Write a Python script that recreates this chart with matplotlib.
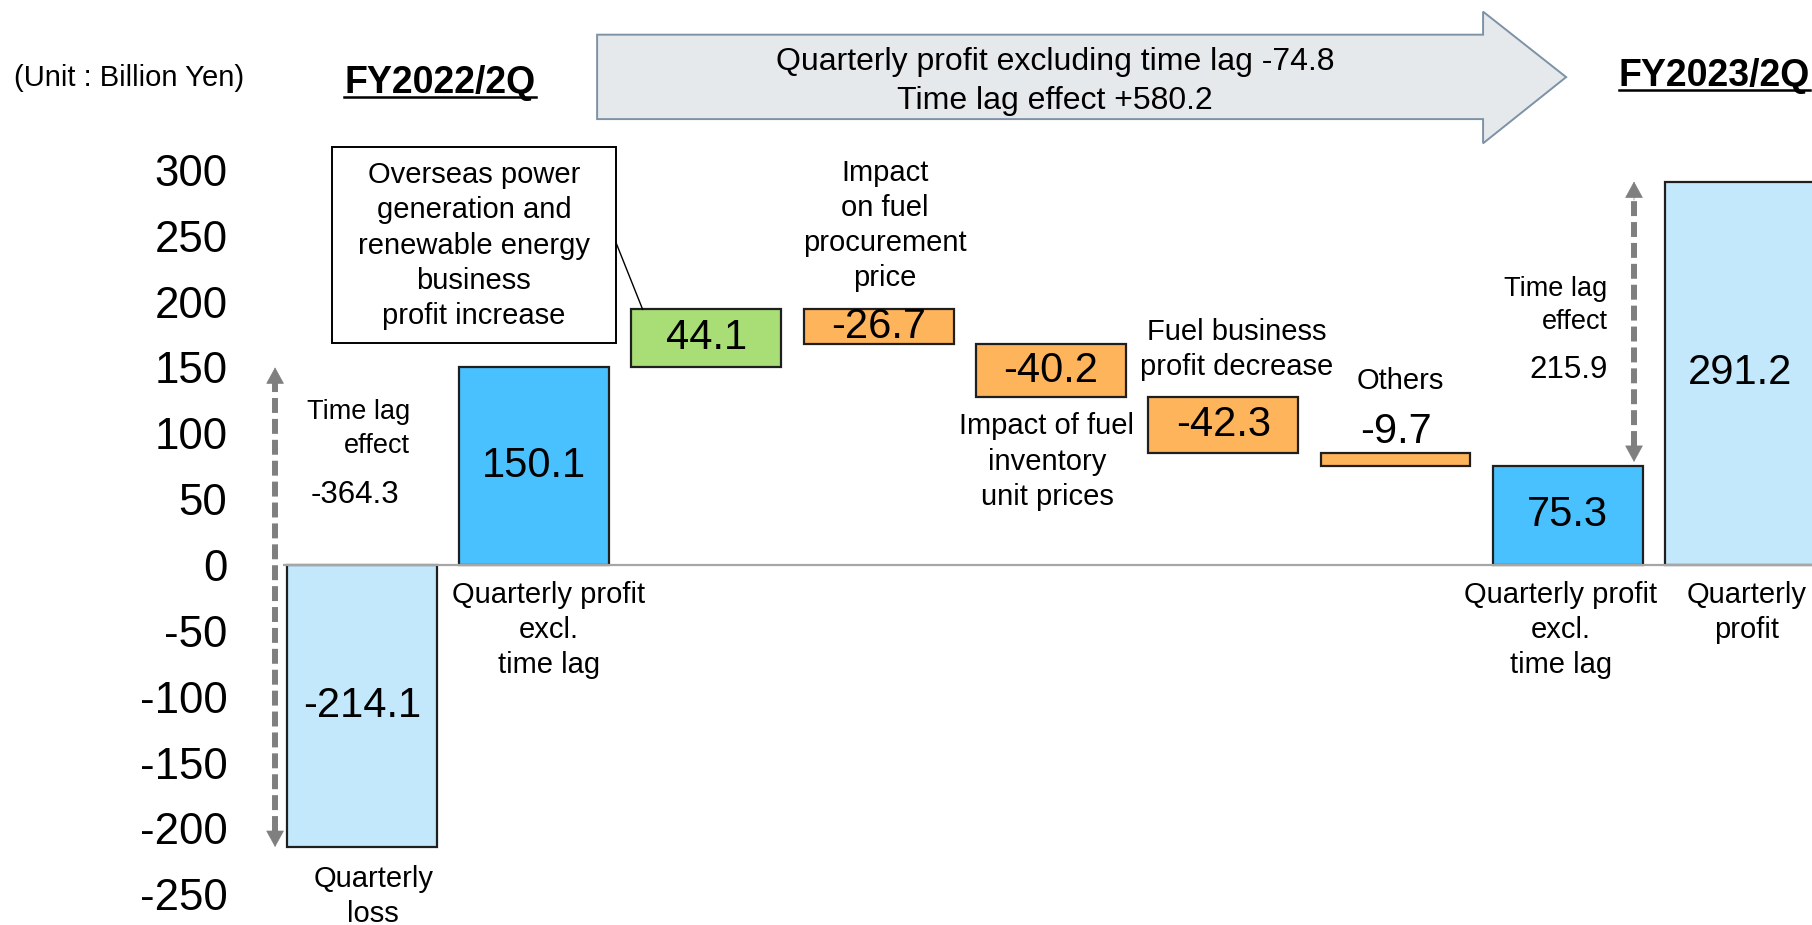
import matplotlib
matplotlib.use("Agg")
import matplotlib.pyplot as plt
from matplotlib.patches import Polygon, Rectangle
from matplotlib.lines import Line2D

# waterfall data (billion yen)
steps = [
    "Quarterly\nloss",
    "Quarterly profit\nexcl.\ntime lag",
    "Overseas power\ngeneration and\nrenewable energy\nbusiness\nprofit increase",
    "Impact\non fuel\nprocurement\nprice",
    "Impact of fuel\ninventory\nunit prices",
    "Fuel business\nprofit decrease",
    "Others",
    "Quarterly profit\nexcl.\ntime lag",
    "Quarterly\nprofit",
]
values = [-214.1, 150.1, 44.1, -26.7, -40.2, -42.3, -9.7, 75.3, 291.2]
kinds = ["total", "total", "delta", "delta", "delta", "delta", "delta", "total", "total"]
time_lag = [-364.3, 215.9]
periods = ["FY2022/2Q", "FY2023/2Q"]
summary = ["Quarterly profit excluding time lag -74.8", "Time lag effect +580.2"]
yticks = list(range(-250, 301, 50))

LIGHT = "#C3E8FB"
BRIGHT = "#48C1FE"
GREEN = "#A9DD76"
ORANGE = "#FDB45B"
GRAY = "#7F7F7F"
bar_colors = [LIGHT, BRIGHT, GREEN, ORANGE, ORANGE, ORANGE, ORANGE, BRIGHT, LIGHT]

plt.rcParams["font.family"] = ["Liberation Sans", "DejaVu Sans"]

fig = plt.figure(figsize=(18.12, 9.25), dpi=100)
ax = fig.add_axes([283 / 1812, 0, 1 - 283 / 1812, 1 - 143.6 / 925])
ax.set_xlim(-0.457, 8.417)
ax.set_ylim(-273.3, 320)

# running totals for the floating bars
bottoms = []
running = 0
for v, k in zip(values, kinds):
    if k == "total":
        bottoms.append(0)
        running = v
    else:
        bottoms.append(running)
        running += v

xs = list(range(len(values)))
ax.bar(xs, values, bottom=bottoms, width=0.87, color=bar_colors,
       edgecolor="#1f1f1f", linewidth=1.6, zorder=2)
ax.axhline(0, color="#A6A6A6", lw=1.6, zorder=3)

# value labels
for x, v, b in zip(xs, values, bottoms):
    if abs(v) < 15:
        y = max(b, b + v) + 16
    else:
        y = b + v / 2
    ax.text(x, y, f"{v:.1f}", ha="center", va="center", fontsize=30, zorder=4)

# category labels (x offset, y centre)
label_pos = [(0.067, -251.3), (1.087, -49.2), None, (3.037, 257.5), (3.977, 78.6),
             (5.077, 163.6), (6.03, 139.7), (6.96, -49.2), (8.04, -36.1)]
for name, pos in zip(steps, label_pos):
    if pos is None:
        continue
    ax.text(pos[0], pos[1], name, ha="center", va="center", fontsize=21,
            linespacing=1.32, clip_on=False)

# callout box for the overseas item
ax.add_patch(Rectangle((-0.175, 168.6), 1.651, 148.9, facecolor="white",
                       edgecolor="black", lw=1.4, zorder=3))
ax.text(0.651, 242.6, steps[2], ha="center", va="center", fontsize=21,
        linespacing=1.32, zorder=4)
ax.plot([1.476, 1.63], [244.7, bottoms[2] + values[2]], color="black", lw=1.0, zorder=3)

# dashed time-lag arrows
def lag_arrow(x, y0, y1):
    ax.plot([x, x], [y0 + 12, y1 - 12], ls=(0, (2.5, 1.0)), color=GRAY, lw=4.3,
            clip_on=False, zorder=3)
    for tip, tail in [(y1, y1 - 14), (y0, y0 + 14)]:
        ax.annotate("", xy=(x, tip), xytext=(x, tail),
                    arrowprops=dict(arrowstyle="-|>,head_length=1.1,head_width=0.6",
                                    color=GRAY, lw=0.5, shrinkA=0, shrinkB=0),
                    annotation_clip=False, zorder=3)

lag_arrow(-0.503, values[0], values[1])
lag_arrow(7.384, values[7] + 3, values[8])

ax.text(0.281, 103.3, "Time lag\neffect", ha="right", va="center", fontsize=19.5,
        linespacing=1.38)
ax.text(-0.039, 53.5, f"{time_lag[0]:.1f}", ha="center", va="center", fontsize=22.5)
ax.text(7.23, 197, "Time lag\neffect", ha="right", va="center", fontsize=19.5,
        linespacing=1.38)
ax.text(7.23, 148.2, f"{time_lag[1]:.1f}", ha="right", va="center", fontsize=22.5)

# header: unit, periods, big arrow
ax.text(-2.018, 370, "(Unit : Billion Yen)", ha="left", va="center", fontsize=21,
        clip_on=False)
t1 = ax.text(0.454, 366, periods[0], ha="center", va="center", fontsize=27,
             fontweight="bold", clip_on=False)
t2 = ax.text(8.405, 371.5, periods[1], ha="right", va="center", fontsize=27,
             fontweight="bold", clip_on=False)

arrow = Polygon([(1.366, 402.7), (6.508, 402.7), (6.508, 420.2), (6.99, 370.5),
                 (6.508, 320.2), (6.508, 338.6), (1.366, 338.6)], closed=True,
                facecolor="#E6E9EC", edgecolor="#7D92A5", lw=1.4, clip_on=False)
ax.add_patch(arrow)
ax.text(4.024, 367, "\n".join(summary), ha="center", va="center", fontsize=23,
        linespacing=1.38, clip_on=False)

ax.set_yticks(yticks)
ax.set_yticklabels([str(t) for t in yticks], fontsize=31.5)
ax.tick_params(axis="y", length=0, pad=40)
ax.set_xticks([])
for s in ax.spines.values():
    s.set_visible(False)

# underline the period titles
fig.canvas.draw()
renderer = fig.canvas.get_renderer()
W, H = fig.bbox.width, fig.bbox.height
for t in (t1, t2):
    bb = t.get_window_extent(renderer)
    y = bb.y0 + 4
    fig.add_artist(Line2D([bb.x0 / W, bb.x1 / W], [y / H, y / H], color="black",
                          lw=1.8, transform=fig.transFigure))

fig.savefig("out.png", dpi=100)
